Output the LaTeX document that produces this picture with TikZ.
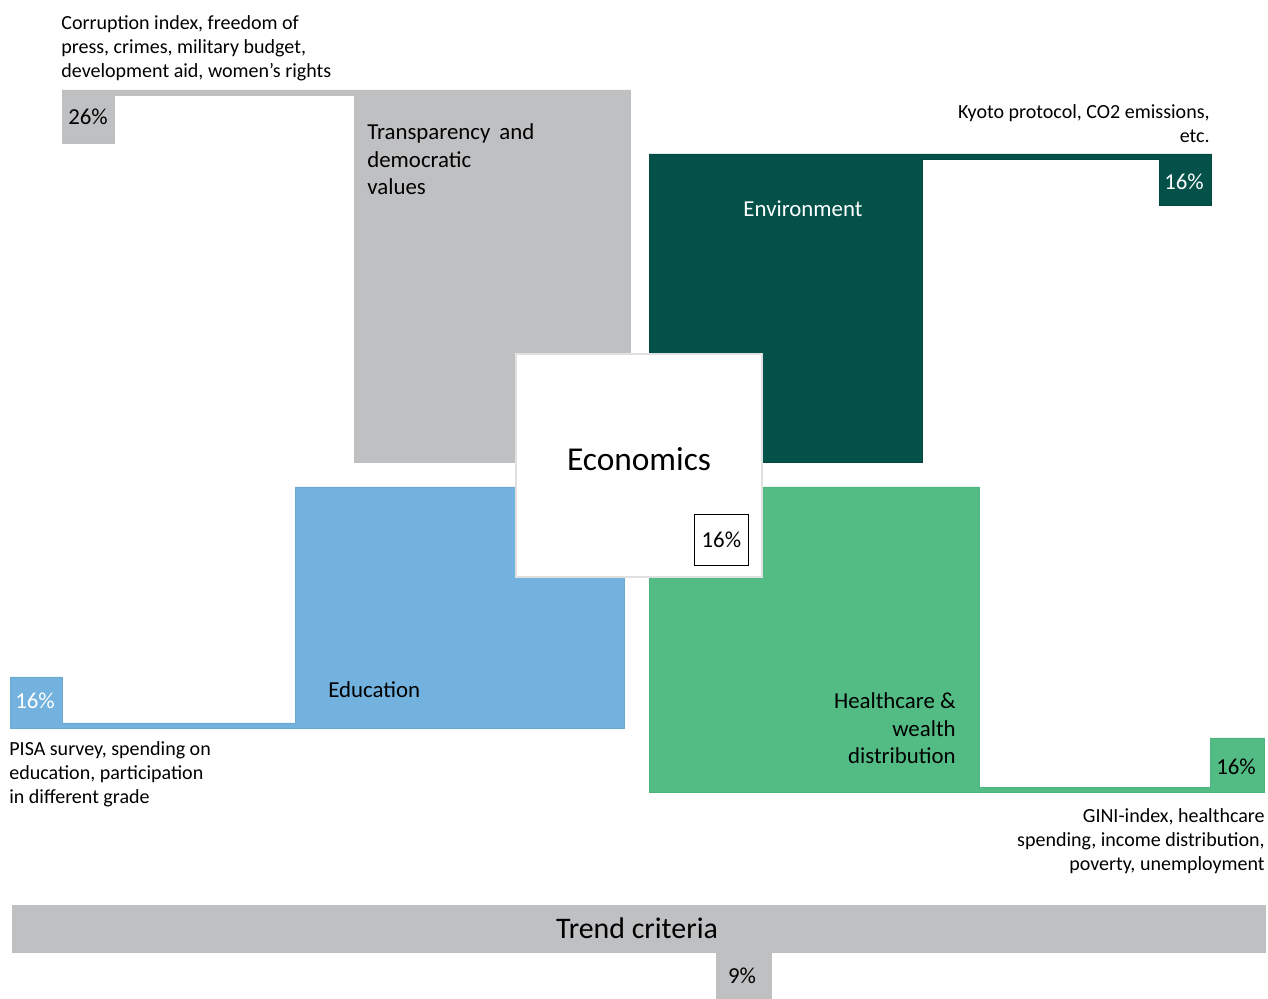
\documentclass[tikz,border=0pt]{standalone}
\usepackage{fontspec}
\setmainfont{Carlito}
\usetikzlibrary{positioning}
\definecolor{trgray}{RGB}{191,192,194}
\definecolor{envgreen}{RGB}{3,81,73}
\definecolor{edublue}{RGB}{115,178,222}
\definecolor{healthgreen}{RGB}{82,188,132}

\begin{document}
\begin{tikzpicture}[x=0.02cm, y=-0.02cm,
        block/.style = {line width=0.5pt, line join=miter},
        note/.style = {inner sep=0pt, font=\fontsize{11.4}{13.66}\selectfont},
        title/.style = {inner sep=0pt, font=\fontsize{13}{15.9}\selectfont},
        pct/.style = {inner sep=0pt, font=\fontsize{13}{15}\selectfont},
        econbox/.style = {draw=black!12, fill=white, line width=1.2pt,
            minimum width=4.92cm, minimum height=4.46cm, inner sep=0pt},
        pctbox/.style = {draw=black, line width=0.8pt, minimum width=1.08cm,
            minimum height=1.02cm, inner sep=0pt, font=\fontsize{13}{15}\selectfont}
    ]
    \useasboundingbox (0,0) rectangle (1268,999);

    % the four criteria blocks
    \filldraw[block, fill=trgray, draw=black!25] (62,90) -- (630,90) -- (630,462) -- (354,462)
        -- (354,95) -- (114,95) -- (114,143) -- (62,143) -- cycle;
    \filldraw[block, fill=envgreen, draw=envgreen!90!black] (649,154) -- (1211,154) -- (1211,205)
        -- (1159,205) -- (1159,159) -- (922,159) -- (922,462) -- (649,462) -- cycle;
    \filldraw[block, fill=edublue, draw=edublue!95!black] (10,677) -- (62,677) -- (62,723)
        -- (295,723) -- (295,487) -- (624,487) -- (624,728) -- (10,728) -- cycle;
    \filldraw[block, fill=healthgreen, draw=healthgreen!95!black] (649,487) -- (979,487)
        -- (979,787) -- (1210,787) -- (1210,738) -- (1264,738) -- (1264,792) -- (649,792) -- cycle;
    \filldraw[block, fill=trgray, draw=black!25] (12,905) -- (1265,905) -- (1265,952) -- (771,952)
        -- (771,999) -- (716,999) -- (716,952) -- (12,952) -- cycle;

    % centre
    \node[econbox] (econ) at (639,465.5) {};
    \node[inner sep=0pt, font=\fontsize{19}{22}\selectfont] (econtext) at (639,459) {Economics};
    \node[pctbox, above left=0.24cm and 0.28cm of econ.south east] (econpct) {16\%};

    % transparency
    \node[note, anchor=base west, align=left] (trnote) at (61,78)
        {Corruption index, freedom of\\press, crimes, military budget,\\development aid, women’s rights};
    \node[pct] (trpct) at (88,117) {26\%};
    \node[title, anchor=base west, align=left] (trtitle) at (367,195)
        {Transparency\, and\\democratic\\values};

    % environment
    \node[note, anchor=base east, align=right] (envnote) at (1210,143)
        {Kyoto protocol, CO2 emissions,\\etc.};
    \node[title, text=white] (envtitle) at (803,209) {Environment};
    \node[pct, text=white] (envpct) at (1184,182) {16\%};

    % education
    \node[title, anchor=base west] (edutitle) at (328,698) {Education};
    \node[pct, text=white] (edupct) at (35,701) {16\%};
    \node[note, anchor=base west, align=left] (edunote) at (9,804)
        {PISA survey, spending on\\education, participation\\in different grade};

    % healthcare
    \node[title, anchor=base east, align=right] (healthtitle) at (956,764)
        {Healthcare \&\\wealth\\distribution};
    \node[pct] (healthpct) at (1236,767) {16\%};
    \node[note, anchor=base east, align=right] (healthnote) at (1265,870)
        {GINI-index, healthcare\\spending, income distribution,\\poverty, unemployment};

    % trend
    \node[inner sep=0pt, font=\fontsize{17}{20}\selectfont] (trend) at (637,928) {Trend criteria};
    \node[pct] (trendpct) at (742,976) {9\%};
\end{tikzpicture}
\end{document}
